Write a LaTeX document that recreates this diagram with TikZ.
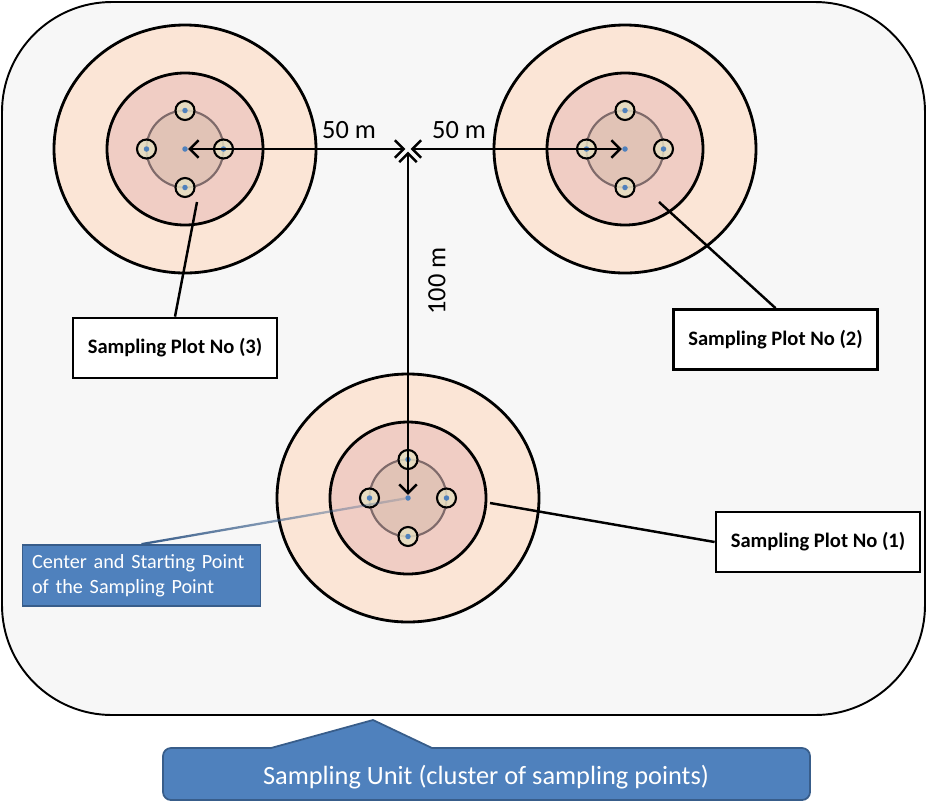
\documentclass[tikz,border=0pt]{standalone}
\usepackage{fontspec}
\setmainfont{Carlito}
\usetikzlibrary{arrows.meta,fadings}
\definecolor{framefill}{HTML}{F7F7F7}
\definecolor{outerc}{HTML}{FBE5D6}
\definecolor{midc}{HTML}{F0CDC4}
\definecolor{innerc}{HTML}{E1C3B6}
\definecolor{innerl}{HTML}{7F6A6A}
\definecolor{smallc}{HTML}{E6E0C2}
\definecolor{dotc}{HTML}{4F81BD}
\definecolor{bluebox}{HTML}{4F81BD}
\definecolor{blueline}{HTML}{385D8A}
\tikzfading[name=fadeline, left color=transparent!0, middle color=transparent!25, right color=transparent!80]
\tikzset{
  framebox/.style={draw=black, fill=framefill, line width=1.1pt, rounded corners=2.2cm},
  outerring/.style={fill=outerc, draw=black, line width=1.6pt},
  midring/.style={fill=midc, draw=black, line width=1.6pt},
  innerring/.style={fill=innerc, draw=innerl, line width=1.2pt},
  smallring/.style={circle, minimum size=0.38cm, inner sep=0pt, fill=smallc, fill opacity=0.82, draw=black, line width=1.2pt},
  cdot/.style={circle, minimum size=0.11cm, inner sep=0pt, fill=dotc},
  arr/.style={draw=black, line width=1.4pt, {Straight Barb[length=5pt,width=10pt]}-{Straight Barb[length=5pt,width=10pt]}},
  dimtext/.style={font=\fontsize{15pt}{17pt}\selectfont, inner sep=0pt},
  plotlabel/.style={draw=black, fill=white, line width=1.6pt, minimum width=4.08cm, minimum height=1.2cm, inner sep=0pt, font=\bfseries\fontsize{11.7pt}{13pt}\selectfont},
  conn/.style={draw=black, line width=1.4pt},
  bluelabel/.style={draw=blueline, fill=bluebox, line width=1pt, text=white, align=left, text width=4.38cm, minimum height=1.22cm, inner xsep=0.19cm, inner ysep=0pt, font=\fontsize{11.5pt}{14.5pt}\selectfont},
  blueconn/.style={draw=blueline, line width=1.3pt, path fading=fadeline},
  calloutshape/.style={draw=blueline, fill=bluebox, line width=1pt},
  callouttext/.style={text=white, inner sep=0pt, font=\fontsize{15pt}{17pt}\selectfont}
}
\newcommand\plotunit[2]{%
  \path[outerring] (#2) ellipse [x radius=131, y radius=124];
  \path[midring] (#2) ellipse [x radius=78, y radius=76];
  \path[innerring] (#2) circle [radius=38.5];
  \path (#2) ++(0,-38.5) node[smallring] (#1t) {} node[cdot] {};
  \path (#2) ++(0,38.5) node[smallring] (#1b) {} node[cdot] {};
  \path (#2) ++(-38.5,0) node[smallring] (#1l) {} node[cdot] {};
  \path (#2) ++(38.5,0) node[smallring] (#1r) {} node[cdot] {};
  \node[cdot] (#1) at (#2) {};
}
\begin{document}
\begin{tikzpicture}[x=0.02cm, y=-0.02cm]
\useasboundingbox (0,0) rectangle (927,802);
\path[framebox] (2,2) rectangle (925,715);

\plotunit{c3}{185,149}
\plotunit{c2}{625,149}
\plotunit{c1}{408,498}

\coordinate (j) at (408,149);
\coordinate (e3) at (197,202);
\coordinate (e2) at (659,202);
\coordinate (e1) at (490,503);

% labels
\node[plotlabel] (p3) at (175,348) {Sampling Plot No (3)};
\node[plotlabel] (p2) at (775.5,339.5) {Sampling Plot No (2)};
\node[plotlabel] (p1) at (818,542) {Sampling Plot No (1)};
\draw[conn] (p3.north) -- (e3);
\draw[conn] (p2.north) -- (e2);
\draw[conn] (p1.west) -- (e1);

% dimension arrows
\draw[arr, shorten >=1.5pt] (c3) -- (j);
\draw[arr, shorten >=1.5pt] (c2) -- (j);
\draw[arr, shorten <=1.5pt] (j) -- (c1);
\node[dimtext] (d1) at (349,130) {50 m};
\node[dimtext] (d2) at (459,130) {50 m};
\node[dimtext, rotate=90] (d3) at (437,281) {100 m};

% center label
\node[bluelabel] (cs) at (141.5,575.5) {Center and Starting Point\\of the Sampling Point};
\draw[blueconn] (cs.north) -- (c1);

% sampling unit callout
\path[calloutshape] (271,748) -- (373,720) -- (432,748) [rounded corners=0.16cm] -- (810,748) -- (810,800) -- (163,800) -- (163,748) [sharp corners] -- cycle;
\node[callouttext] (su) at (486,777) {Sampling Unit (cluster of sampling points)};
\end{tikzpicture}
\end{document}
